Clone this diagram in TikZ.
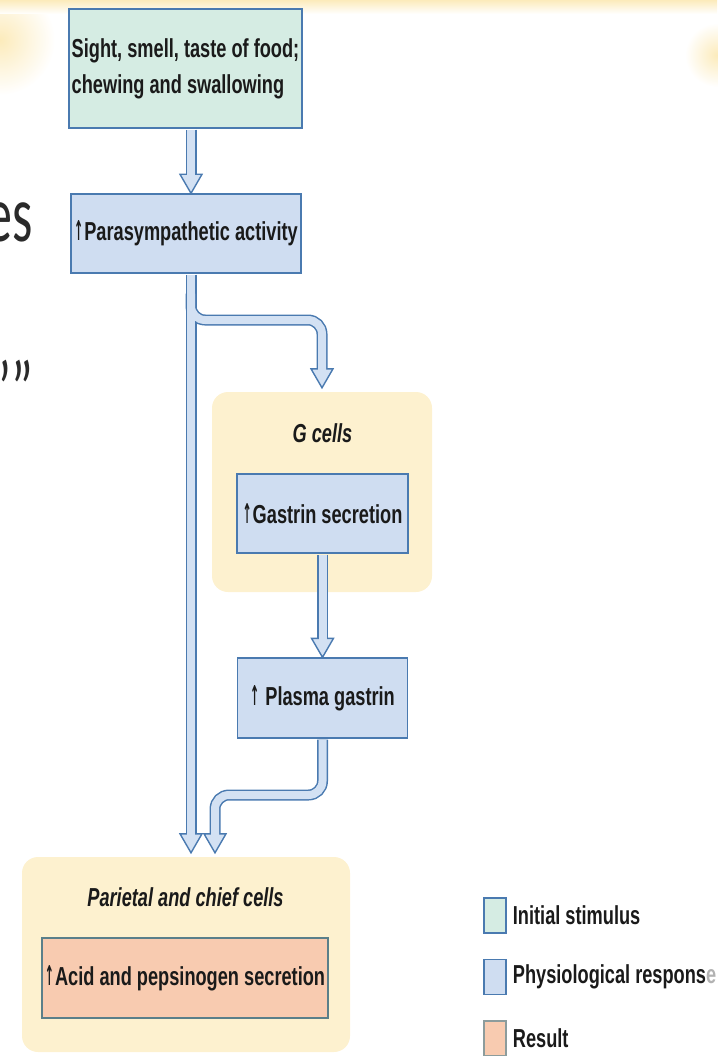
\documentclass[tikz,border=0pt]{standalone}
\usepackage{fontspec}
\usepackage{graphicx}
\setmainfont{Liberation Sans}[FakeStretch=0.70]
\newfontfamily\slidefont{Carlito}[FakeStretch=0.65]
\newfontfamily\arrowfont{DejaVu Sans}
\usetikzlibrary{calc}
\definecolor{bordblue}{HTML}{4A7AB0}
\definecolor{greenfill}{HTML}{D5ECE3}
\definecolor{bluefill}{HTML}{CFDDF1}
\definecolor{pipefill}{HTML}{D3E1F3}
\definecolor{cellyellow}{HTML}{FDF1CF}
\definecolor{salmon}{HTML}{F8CBB0}
\definecolor{acidborder}{HTML}{5A7F8A}
\definecolor{salmonborder}{HTML}{8C9C9C}
\definecolor{txt}{HTML}{1A1A1A}
\definecolor{glow}{HTML}{FCEBBB}
\definecolor{slidegray}{HTML}{2A2A2A}
\newcommand\fs{\fontsize{26}{36}\selectfont\bfseries}
\newcommand\upar{\scalebox{0.42}[1.05]{\arrowfont\bfseries ↑}\hspace{1pt}}
\newcommand\myhead[1]{\filldraw[headst] ($(#1)+(-11,-19)$) -- (#1) -- ($(#1)+(11,-19)$) -- cycle;}
\tikzset{
  box/.style={draw=bordblue, line width=1.4pt, inner sep=0pt, text=txt, font=\fs},
  cellbg/.style={fill=cellyellow, rounded corners=16pt, inner sep=0pt},
  lbl/.style={font=\fs\itshape, text=txt, inner sep=0pt},
  pipeout/.style={draw=bordblue, line width=11pt, rounded corners=14pt},
  pipein/.style={draw=pipefill, line width=8pt, rounded corners=14pt},
  headst/.style={fill=pipefill, draw=bordblue, line width=1.4pt, line join=miter},
  legsq/.style={draw=bordblue, line width=1.4pt, minimum width=22pt, minimum height=35pt, inner sep=0pt},
  legtxt/.style={font=\fs, text=txt, anchor=west, inner sep=0pt},
  frag/.style={font=\slidefont\fontsize{80}{80}\selectfont, text=slidegray, inner sep=0pt},
}
\begin{document}
\begin{tikzpicture}[x=1pt,y=-1pt]
\useasboundingbox (0,0) rectangle (717,1056);
% background glow
\shade[inner color=glow, outer color=white] (0,40) circle (55);
\shade[inner color=glow, outer color=white] (717,55) circle (32);
\shade[top color=glow, bottom color=white] (0,0) rectangle (717,14);
% slide text fragments
\node[frag, anchor=base east] (fr1) at (33,242) {es};
\node[frag, anchor=base east] (fr2) at (33,416) {’”};
% containers
\node[cellbg, minimum width=220pt, minimum height=200pt] (gc) at (322,492) {};
\node[cellbg, minimum width=328pt, minimum height=195pt] (par) at (186,954.5) {};
% boxes
\node[box, fill=greenfill, minimum width=233pt, minimum height=119pt, align=left] (b1) at (185.5,68.5)
  {Sight, smell, taste of food;\\chewing and swallowing};
\node[box, fill=bluefill, minimum width=230pt, minimum height=79pt] (b2) at (186,233.5)
  {\upar Parasympathetic activity};
\node[lbl] (gcl) at (322.5,433) {G cells};
\node[box, fill=bluefill, minimum width=171pt, minimum height=79pt] (gs) at (322.5,513.5)
  {\upar Gastrin secretion};
\node[box, fill=bluefill, minimum width=170pt, minimum height=80pt] (pl) at (322.5,698)
  {\upar{} Plasma gastrin};
\node[lbl] (parl) at (185.5,897) {Parietal and chief cells};
\node[box, fill=salmon, draw=acidborder, minimum width=286pt, minimum height=80pt] (ac) at (185,978)
  {\upar Acid and pepsinogen secretion};
% helper coordinates
\coordinate (mx) at (191,0);
\coordinate (rx) at (215,0);
\coordinate (by) at (0,320);
\coordinate (ly) at (0,795);
\coordinate (t1) at (b2.north -| mx);
\coordinate (t2) at ($(par.north -| mx)+(0,-4)$);
\coordinate (t3) at ($(gc.north)+(0,-4)$);
\coordinate (t4) at (pl.north);
\coordinate (t5) at ($(par.north -| rx)+(0,-4)$);
% pipe outlines
\draw[pipeout] ($(b1.south -| mx)+(0,1)$) -- ($(t1)+(0,-19)$);
\draw[pipeout] ($(b2.south -| mx)+(0,1)$) -- ($(t2)+(0,-19)$);
\draw[pipeout] ($(b2.south -| mx)+(0,20)$) -- (mx |- by) -- (gc.north |- by) -- ($(t3)+(0,-19)$);
\draw[pipeout] ($(gs.south)+(0,1)$) -- ($(t4)+(0,-19)$);
\draw[pipeout] ($(pl.south)+(0,1)$) -- (pl.south |- ly) -- (rx |- ly) -- ($(t5)+(0,-19)$);
% heads
\myhead{t1}
\myhead{t2}
\myhead{t3}
\myhead{t4}
\myhead{t5}
% pipe interiors
\draw[pipein] ($(b1.south -| mx)+(0,1.5)$) -- ($(t1)+(0,-17.5)$);
\draw[pipein] ($(b2.south -| mx)+(0,1.5)$) -- ($(t2)+(0,-17.5)$);
\draw[pipein] ($(b2.south -| mx)+(0,20)$) -- (mx |- by) -- (gc.north |- by) -- ($(t3)+(0,-17.5)$);
\draw[pipein] ($(gs.south)+(0,1.5)$) -- ($(t4)+(0,-17.5)$);
\draw[pipein] ($(pl.south)+(0,1.5)$) -- (pl.south |- ly) -- (rx |- ly) -- ($(t5)+(0,-17.5)$);
% legend
\node[legsq, fill=greenfill] (l1) at (495,915.5) {};
\node[legsq, fill=bluefill] (l2) at (495,977) {};
\node[legsq, fill=salmon, draw=salmonborder] (l3) at (495,1038.5) {};
\node[legtxt] (l1t) at ($(l1.east)+(6,0)$) {Initial stimulus};
\node[legtxt] (l2t) at ($(l2.east)+(6,0)$) {Physiological respons\textcolor{gray!60}{e}};
\node[legtxt] (l3t) at ($(l3.east)+(6,0)$) {Result};
\end{tikzpicture}
\end{document}
